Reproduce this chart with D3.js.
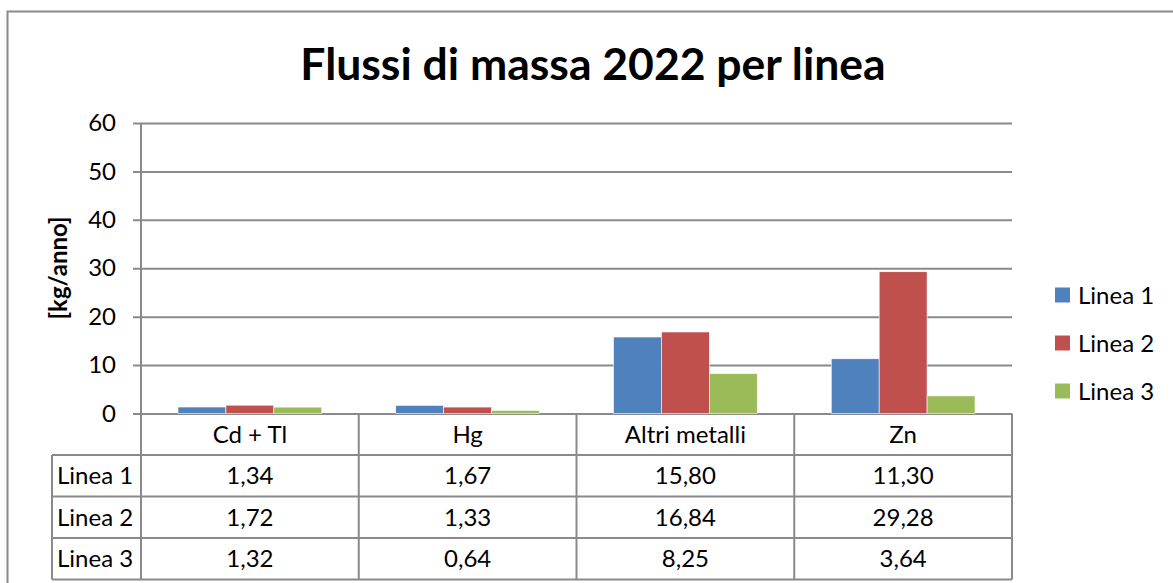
<!DOCTYPE html>
<html>
<head>
<meta charset="utf-8">
<script src="https://cdn.jsdelivr.net/npm/d3@7"></script>
<style>
  body { margin: 0; background: #fff; }
  text { font-family: Lato, "Liberation Sans", sans-serif; fill: #000; }
</style>
</head>
<body>
<div id="chart"></div>
<script>
// data
const categories = ['Cd + Tl', 'Hg', 'Altri metalli', 'Zn'];
const series = ['Linea 1', 'Linea 2', 'Linea 3'];
const linea1 = [1.34, 1.67, 15.80, 11.30];
const linea2 = [1.72, 1.33, 16.84, 29.28];
const linea3 = [1.32, 0.64, 8.25, 3.64];
const yTicks = [0, 10, 20, 30, 40, 50, 60];
const title = 'Flussi di massa 2022 per linea';
const yLabel = '[kg/anno]';

const values = [linea1, linea2, linea3];
const colors = ['#4F81BD', '#C0504D', '#9BBB59'];
const gridColor = '#8a8a8a';

const width = 1173;
const height = 583;
const plot = { left: 141, right: 1012, top: 123, bottom: 413.5 };
const rowH = 41.5;
const tableLeft = 52;

const it = d3.formatLocale({ decimal: ',', thousands: '.', grouping: [3], currency: ['', '€'] });
const fmt = it.format('.2f');

const svg = d3.select('#chart').append('svg')
  .attr('width', width)
  .attr('height', height);

// outer frame
svg.append('rect')
  .attr('x', 7.5).attr('y', 11.5)
  .attr('width', width + 20).attr('height', height + 20)
  .attr('fill', 'none')
  .attr('stroke', gridColor)
  .attr('stroke-width', 2);

svg.append('text')
  .attr('x', 593).attr('y', 80)
  .attr('text-anchor', 'middle')
  .style('font-size', '44.5px')
  .style('font-weight', 'bold')
  .text(title);

const x = d3.scaleBand()
  .domain(categories)
  .range([plot.left, plot.right]);

const xInner = d3.scaleBand()
  .domain(series)
  .range([37, x.bandwidth() - 37]);

const y = d3.scaleLinear()
  .domain([0, 60])
  .range([plot.bottom, plot.top]);

// gridlines + ticks
const yAxis = svg.append('g')
  .attr('transform', `translate(${plot.left},0)`)
  .call(d3.axisLeft(y)
    .tickValues(yTicks)
    .tickSize(-(plot.right - plot.left))
    .tickPadding(25)
    .tickFormat(d3.format('d')));

yAxis.select('.domain').remove();
yAxis.selectAll('.tick line')
  .attr('x1', -8)
  .attr('stroke', gridColor)
  .attr('stroke-width', 2);
yAxis.selectAll('.tick text')
  .style('font-size', '24px')
  .style('font-family', 'Lato, sans-serif')
  .attr('fill', '#000');

// bars
const groups = svg.append('g')
  .selectAll('g')
  .data(categories)
  .enter()
  .append('g')
  .attr('transform', d => `translate(${x(d)},0)`);

groups.selectAll('rect')
  .data((c, i) => series.map((s, j) => ({ s, j, v: values[j][i] })))
  .enter()
  .append('rect')
  .attr('x', d => xInner(d.s))
  .attr('width', xInner.bandwidth())
  .attr('y', d => y(d.v))
  .attr('height', d => y(0) - y(d.v))
  .attr('fill', d => colors[d.j])
  .attr('stroke', '#fff')
  .attr('stroke-width', 0.6);

// data table
const table = svg.append('g');
const tableBottom = plot.bottom + rowH * 4;
const lineStyle = sel => sel.attr('stroke', gridColor).attr('stroke-width', 2);

// vertical axis line through the table
table.append('line')
  .attr('x1', plot.left).attr('x2', plot.left)
  .attr('y1', plot.top).attr('y2', tableBottom)
  .call(lineStyle);

// column dividers
table.selectAll('.col')
  .data(categories.slice(1).concat(['end']))
  .enter()
  .append('line')
  .attr('x1', (d, i) => i < 3 ? x(d) : plot.right)
  .attr('x2', (d, i) => i < 3 ? x(d) : plot.right)
  .attr('y1', plot.bottom).attr('y2', tableBottom)
  .call(lineStyle);

// horizontal row lines
table.selectAll('.row')
  .data(d3.range(1, 5))
  .enter()
  .append('line')
  .attr('x1', tableLeft).attr('x2', plot.right)
  .attr('y1', i => plot.bottom + rowH * i)
  .attr('y2', i => plot.bottom + rowH * i)
  .call(lineStyle);

table.append('line')
  .attr('x1', tableLeft).attr('x2', tableLeft)
  .attr('y1', plot.bottom + rowH).attr('y2', tableBottom)
  .call(lineStyle);

// header row (category names)
table.selectAll('.cat')
  .data(categories)
  .enter()
  .append('text')
  .attr('x', d => x(d) + x.bandwidth() / 2)
  .attr('y', plot.bottom + rowH / 2)
  .attr('dy', '0.36em')
  .attr('text-anchor', 'middle')
  .style('font-size', '24px')
  .text(d => d);

// series rows
series.forEach((s, j) => {
  const cy = plot.bottom + rowH * (j + 1) + rowH / 2;
  table.append('text')
    .attr('x', tableLeft + 5)
    .attr('y', cy)
    .attr('dy', '0.36em')
    .style('font-size', '24px')
    .text(s);
  table.selectAll('.v' + j)
    .data(values[j])
    .enter()
    .append('text')
    .attr('x', (d, i) => x(categories[i]) + x.bandwidth() / 2)
    .attr('y', cy)
    .attr('dy', '0.36em')
    .attr('text-anchor', 'middle')
    .style('font-size', '24px')
    .text(d => fmt(d));
});

// y axis title
svg.append('text')
  .attr('transform', 'translate(67,268) rotate(-90)')
  .attr('text-anchor', 'middle')
  .style('font-size', '24px')
  .style('font-weight', 'bold')
  .text(yLabel);

// legend
const legend = svg.append('g')
  .selectAll('g')
  .data(series)
  .enter()
  .append('g')
  .attr('transform', (d, i) => `translate(1055,${295 + i * 48})`);

legend.append('rect')
  .attr('x', 0).attr('y', -7.5)
  .attr('width', 15).attr('height', 15)
  .attr('fill', (d, i) => colors[i]);

legend.append('text')
  .attr('x', 23)
  .attr('dy', '0.36em')
  .style('font-size', '24px')
  .text(d => d);
</script>
</body>
</html>
